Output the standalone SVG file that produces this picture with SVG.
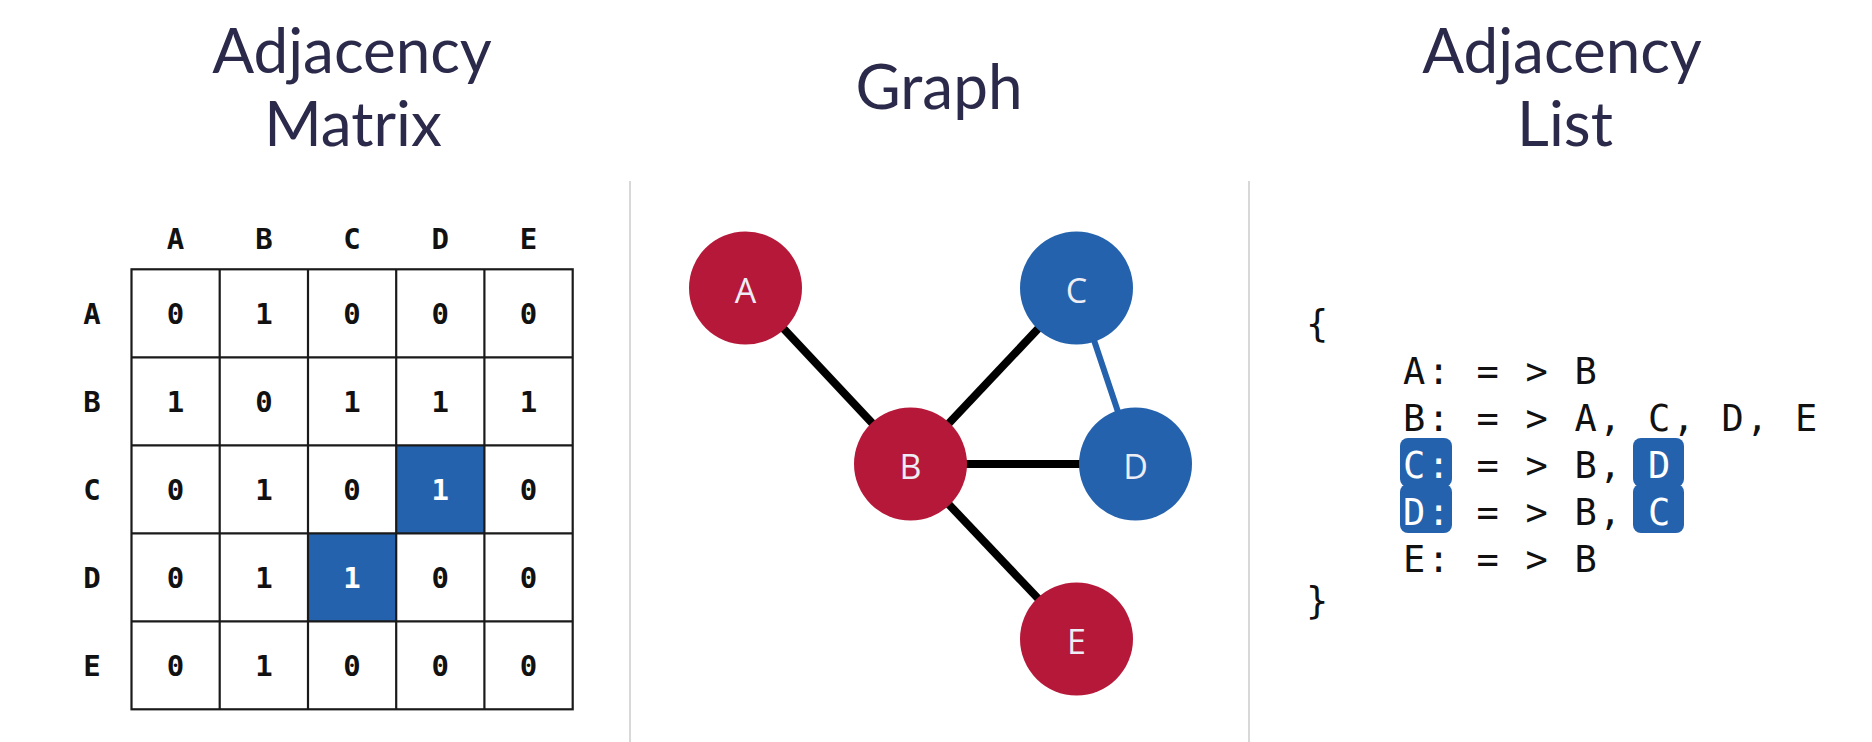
<svg xmlns="http://www.w3.org/2000/svg" width="1872" height="742" viewBox="0 0 1872 742">
<style>
.title{font-family:Lato,"Open Sans",sans-serif;font-size:62px;fill:#2b2a4a;text-anchor:middle}
.hdr{font-family:"DejaVu Sans Mono",monospace;font-weight:bold;font-size:29px;fill:#111;text-anchor:middle}
.cell{font-family:"DejaVu Sans Mono",monospace;font-weight:bold;font-size:29px;fill:#111;text-anchor:middle}
.cellw{fill:#ffffff}
.grid{stroke:#1a1a1a;stroke-width:2.2;fill:none}
.hl{fill:#2462ad}
.divider{stroke:#d8d8d8;stroke-width:2}
.red{fill:#b51838}
.blue{fill:#2462ad}
.nlabel{font-family:"Open Sans",Lato,sans-serif;font-size:34px;fill:#ededf5;text-anchor:middle}
.edge{stroke:#000;stroke-width:8}
.edgeb{stroke:#2462ad;stroke-width:6}
.code{font-family:"DejaVu Sans Mono",monospace;font-size:37px;letter-spacing:2.23px;fill:#111}
.w{fill:#ffffff}
</style>

<g id="titles">
<text class="title" x="352" y="73">Adjacency</text>
<text class="title" x="353" y="146">Matrix</text>
<text class="title" x="939" y="109">Graph</text>
<text class="title" x="1562" y="73">Adjacency</text>
<text class="title" x="1565" y="146">List</text>
</g>

<g id="dividers">
<line class="divider" x1="630" y1="181" x2="630" y2="742"/>
<line class="divider" x1="1249" y1="181" x2="1249" y2="742"/>
</g>

<g id="matrix">
<rect class="hl" x="396.2" y="445.3" width="88.2" height="88"/>
<rect class="hl" x="308" y="533.3" width="88.2" height="88"/>
<g class="grid">
<rect x="131.5" y="269.3" width="441.2" height="440"/>
<line x1="219.7" y1="269.3" x2="219.7" y2="709.3"/>
<line x1="308" y1="269.3" x2="308" y2="709.3"/>
<line x1="396.2" y1="269.3" x2="396.2" y2="709.3"/>
<line x1="484.4" y1="269.3" x2="484.4" y2="709.3"/>
<line x1="131.5" y1="357.3" x2="572.7" y2="357.3"/>
<line x1="131.5" y1="445.3" x2="572.7" y2="445.3"/>
<line x1="131.5" y1="533.3" x2="572.7" y2="533.3"/>
<line x1="131.5" y1="621.3" x2="572.7" y2="621.3"/>
</g>
<g id="col-headers">
<text class="hdr" x="175.6" y="249">A</text>
<text class="hdr" x="263.9" y="249">B</text>
<text class="hdr" x="352.1" y="249">C</text>
<text class="hdr" x="440.3" y="249">D</text>
<text class="hdr" x="528.6" y="249">E</text>
</g>
<g id="row-headers">
<text class="hdr" x="92" y="323.5">A</text>
<text class="hdr" x="92" y="411.5">B</text>
<text class="hdr" x="92" y="499.5">C</text>
<text class="hdr" x="92" y="587.5">D</text>
<text class="hdr" x="92" y="675.5">E</text>
</g>
<g id="cells">
<text class="cell" x="175.6" y="323.5">0</text>
<text class="cell" x="263.9" y="323.5">1</text>
<text class="cell" x="352.1" y="323.5">0</text>
<text class="cell" x="440.3" y="323.5">0</text>
<text class="cell" x="528.6" y="323.5">0</text>

<text class="cell" x="175.6" y="411.5">1</text>
<text class="cell" x="263.9" y="411.5">0</text>
<text class="cell" x="352.1" y="411.5">1</text>
<text class="cell" x="440.3" y="411.5">1</text>
<text class="cell" x="528.6" y="411.5">1</text>

<text class="cell" x="175.6" y="499.5">0</text>
<text class="cell" x="263.9" y="499.5">1</text>
<text class="cell" x="352.1" y="499.5">0</text>
<text class="cell cellw" x="440.3" y="499.5">1</text>
<text class="cell" x="528.6" y="499.5">0</text>

<text class="cell" x="175.6" y="587.5">0</text>
<text class="cell" x="263.9" y="587.5">1</text>
<text class="cell cellw" x="352.1" y="587.5">1</text>
<text class="cell" x="440.3" y="587.5">0</text>
<text class="cell" x="528.6" y="587.5">0</text>

<text class="cell" x="175.6" y="675.5">0</text>
<text class="cell" x="263.9" y="675.5">1</text>
<text class="cell" x="352.1" y="675.5">0</text>
<text class="cell" x="440.3" y="675.5">0</text>
<text class="cell" x="528.6" y="675.5">0</text>
</g>
</g>

<g id="connectors">
<line class="edge" x1="745.5" y1="288" x2="910.5" y2="464"/>
<line class="edge" x1="910.5" y1="464" x2="1076.5" y2="288"/>
<line class="edge" x1="910.5" y1="464" x2="1135.5" y2="464"/>
<line class="edge" x1="910.5" y1="464" x2="1076.5" y2="639"/>
<line class="edgeb" x1="1076.5" y1="288" x2="1135.5" y2="464"/>
</g>

<g id="node-A"><circle class="red" cx="745.5" cy="288" r="56.5"/><text class="nlabel" x="745.5" y="302.5">A</text></g>
<g id="node-B"><circle class="red" cx="910.5" cy="464" r="56.5"/><text class="nlabel" x="910.5" y="478.5">B</text></g>
<g id="node-C"><circle class="blue" cx="1076.5" cy="288" r="56.5"/><text class="nlabel" x="1076.5" y="302.5">C</text></g>
<g id="node-D"><circle class="blue" cx="1135.5" cy="464" r="56.5"/><text class="nlabel" x="1135.5" y="478.5">D</text></g>
<g id="node-E"><circle class="red" cx="1076.5" cy="639" r="56.5"/><text class="nlabel" x="1076.5" y="653.5">E</text></g>

<g id="adjacency-list">
<rect class="hl" x="1400" y="438" width="52" height="49" rx="8"/>
<rect class="hl" x="1400" y="484" width="52" height="49" rx="8"/>
<rect class="hl" x="1633" y="438" width="51" height="49" rx="8"/>
<rect class="hl" x="1633" y="484" width="51" height="49" rx="8"/>
<text class="code" x="1306" y="337">{</text>
<text class="code" x="1403" y="384">A: = &gt; B</text>
<text class="code" x="1403" y="431">B: = &gt; A, C, D, E</text>
<text class="code" x="1403" y="478"><tspan class="w">C:</tspan> = &gt; B, <tspan class="w">D</tspan></text>
<text class="code" x="1403" y="525"><tspan class="w">D:</tspan> = &gt; B, <tspan class="w">C</tspan></text>
<text class="code" x="1403" y="572">E: = &gt; B</text>
<text class="code" x="1306" y="614">}</text>
</g>
</svg>
